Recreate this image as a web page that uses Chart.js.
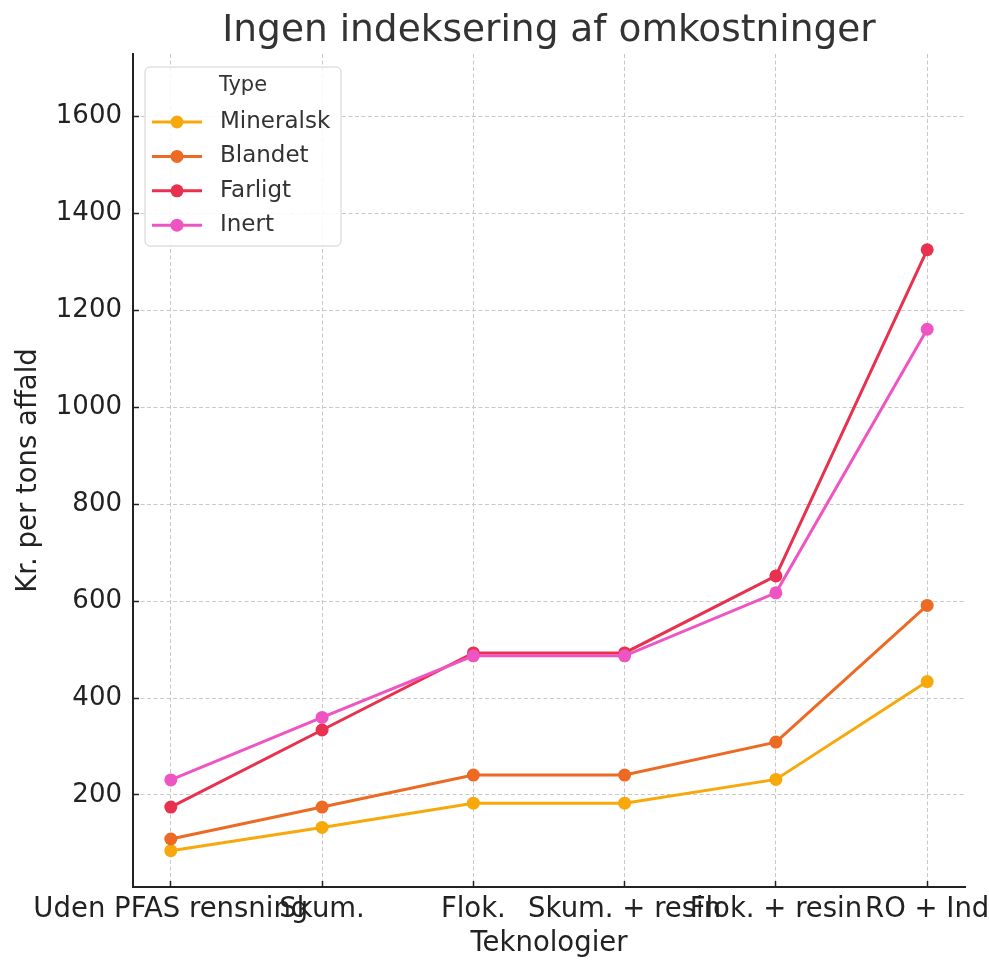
<!DOCTYPE html>
<html><head><meta charset="utf-8">
<script src="https://cdn.jsdelivr.net/npm/chart.js@4"></script>
<style>html,body{margin:0;padding:0;background:#fff;overflow:hidden}#wrap{width:989px;height:961px;position:relative}canvas{display:block}</style>
</head><body><div id="wrap"><canvas id="c" width="989" height="961"></canvas></div>
<script>
const categories = ["Uden PFAS rensning","Skum.","Flok.","Skum. + resin","Flok. + resin","RO + Ind"];
const seriesNames = ["Mineralsk","Blandet","Farligt","Inert"];
const mineralsk = [85,133,183,183,232,434];
const blandet = [109,175,241,241,309,591];
const farligt = [175,334,493,493,652,1325];
const inert = [231,360,487,487,617,1161];
const yTicks = [200,400,600,800,1000,1200,1400,1600];
const colors = ["#F7A90C","#EC6A24","#E8304F","#EF55C2"];

const F = "'DejaVu Sans', sans-serif";
const TXT = "#222";
const GRID = "#c8c8c8";
const allSeries = [mineralsk, blandet, farligt, inert];

const datasets = allSeries.map((vals, k) => ({
  label: seriesNames[k],
  data: vals.map((v, i) => ({x: i, y: v})),
  borderColor: colors[k],
  backgroundColor: colors[k],
  pointBackgroundColor: colors[k],
  pointBorderColor: colors[k],
  borderWidth: 3,
  pointRadius: 6.5,
  pointBorderWidth: 0,
  tension: 0,
  order: 4 - k
}));

const boxLegend = {
  id: 'boxLegend',
  afterDraw(chart) {
    const ctx = chart.ctx, ca = chart.chartArea;
    const bx = ca.left + 12, by = ca.top + 13, bw = 196, bh = 179, r = 5;
    ctx.save();
    ctx.beginPath();
    ctx.moveTo(bx + r, by);
    ctx.arcTo(bx + bw, by, bx + bw, by + bh, r);
    ctx.arcTo(bx + bw, by + bh, bx, by + bh, r);
    ctx.arcTo(bx, by + bh, bx, by, r);
    ctx.arcTo(bx, by, bx + bw, by, r);
    ctx.closePath();
    ctx.fillStyle = 'rgba(255,255,255,0.85)';
    ctx.fill();
    ctx.strokeStyle = '#d0d0d0';
    ctx.lineWidth = 1;
    ctx.stroke();
    ctx.fillStyle = '#333';
    ctx.font = "21px " + F;
    ctx.textAlign = 'center';
    ctx.textBaseline = 'middle';
    ctx.fillText('Type', bx + 98, by + 19);
    chart.data.datasets.forEach((ds, i) => {
      const y = by + 55 + i * 34.4;
      ctx.strokeStyle = ds.borderColor;
      ctx.lineWidth = 3;
      ctx.beginPath();
      ctx.moveTo(bx + 7, y);
      ctx.lineTo(bx + 57, y);
      ctx.stroke();
      ctx.fillStyle = ds.borderColor;
      ctx.beginPath();
      ctx.arc(bx + 32, y, 6.5, 0, Math.PI * 2);
      ctx.fill();
      ctx.fillStyle = '#333';
      ctx.font = "23px " + F;
      ctx.textAlign = 'left';
      ctx.fillText(ds.label, bx + 75, y);
    });
    ctx.restore();
  }
};

new Chart(document.getElementById('c'), {
  type: 'line',
  data: { datasets },
  plugins: [boxLegend],
  options: {
    responsive: false,
    animation: false,
    devicePixelRatio: 1,
    layout: { padding: { left: 0, right: 24, top: 0, bottom: 0 } },
    plugins: {
      legend: { display: false },
      tooltip: { enabled: false },
      title: {
        display: true,
        text: 'Ingen indeksering af omkostninger',
        fullSize: false,
        color: '#333',
        font: { family: F, size: 37.5, weight: 'normal' },
        padding: { top: 9, bottom: 0 }
      }
    },
    scales: {
      x: {
        type: 'linear',
        bounds: 'data',
        min: -0.25,
        max: 5.25,
        afterBuildTicks: s => { s.ticks = categories.map((_, i) => ({ value: i })); },
        ticks: {
          callback: v => categories[Math.round(v)],
          autoSkip: false, maxRotation: 0, minRotation: 0,
          font: { family: F, size: 27.5 }, color: TXT, padding: 12
        },
        grid: { color: GRID, lineWidth: 1, tickLength: -6, tickColor: TXT, tickWidth: 1.5 },
        border: { display: true, color: TXT, width: 2, dash: [4, 2.5] },
        title: { display: true, text: 'Teknologier', color: TXT, font: { family: F, size: 27.5 }, padding: { top: 0, bottom: 1 } },
        afterFit: s => { s.height = 74; s.paddingLeft = 0; s.paddingRight = 0; }
      },
      y: {
        type: 'linear',
        bounds: 'data',
        min: 10,
        max: 1729,
        afterBuildTicks: s => { s.ticks = yTicks.map(v => ({ value: v })); },
        ticks: { callback: v => String(v), font: { family: F, size: 26 }, color: TXT, padding: 17 },
        grid: { color: GRID, lineWidth: 1, tickLength: -6, tickColor: TXT, tickWidth: 1.5 },
        border: { display: true, color: TXT, width: 2, dash: [4, 2.5] },
        title: { display: true, text: 'Kr. per tons affald', color: TXT, font: { family: F, size: 27.5 }, padding: { top: 12, bottom: 0 } },
        afterFit: s => { s.width = 133; s.paddingTop = 0; s.paddingBottom = 0; }
      }
    }
  }
});
</script>
</body></html>
